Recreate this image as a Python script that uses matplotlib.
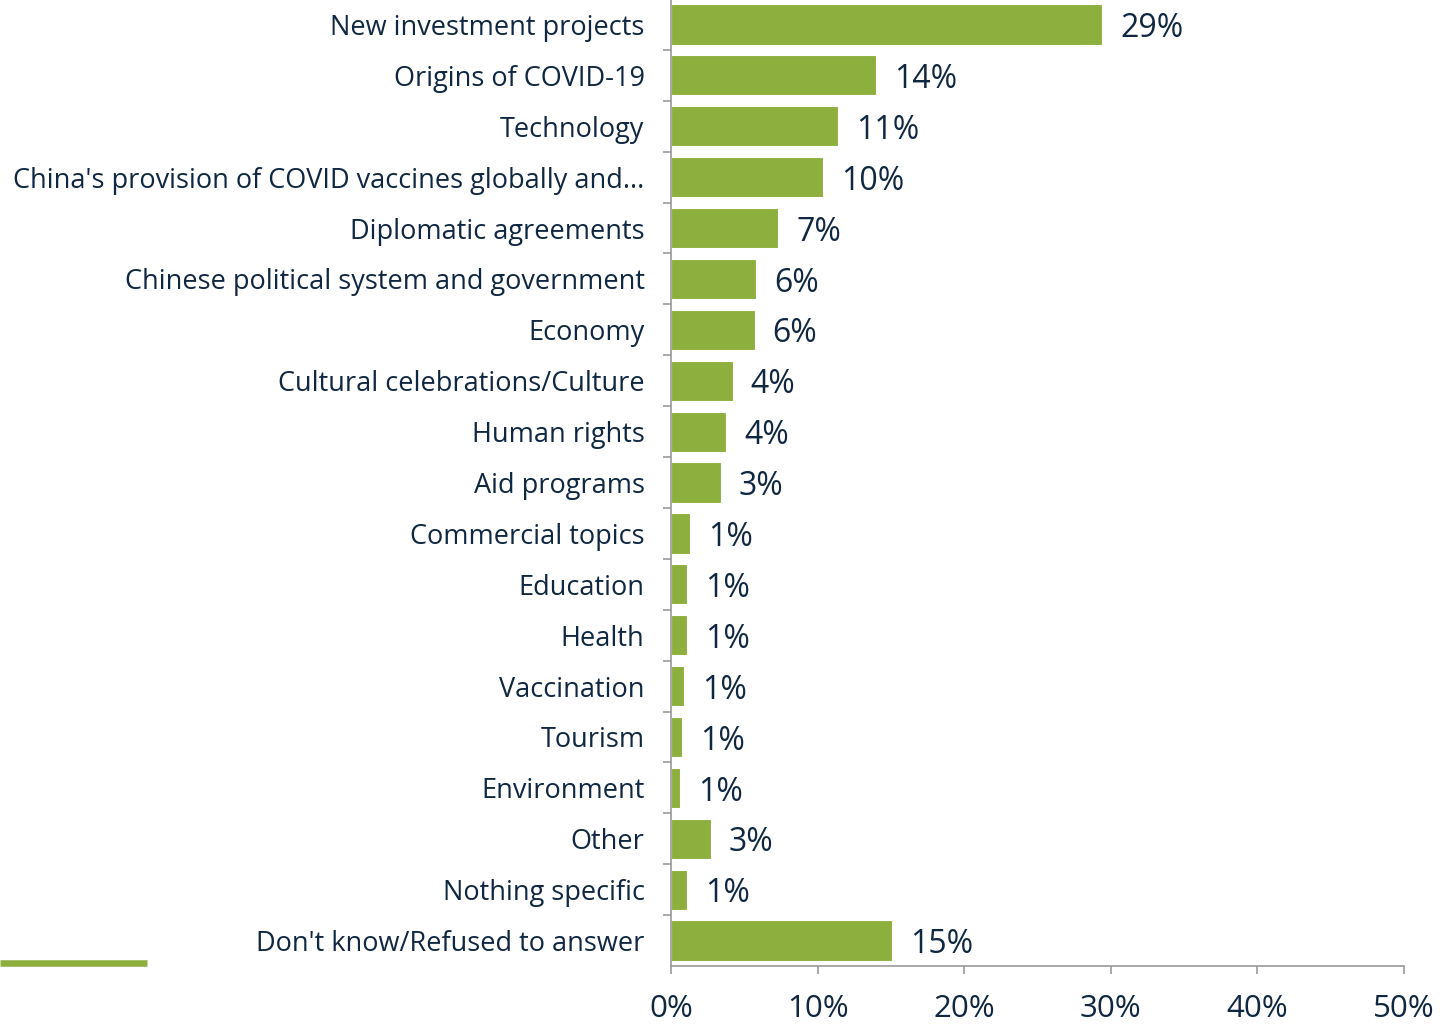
import matplotlib
matplotlib.use("Agg")
import matplotlib.pyplot as plt
import numpy as np
from matplotlib.ticker import FixedLocator

categories = [
    "New investment projects",
    "Origins of COVID-19",
    "Technology",
    "China's provision of COVID vaccines globally and...",
    "Diplomatic agreements",
    "Chinese political system and government",
    "Economy",
    "Cultural celebrations/Culture",
    "Human rights",
    "Aid programs",
    "Commercial topics",
    "Education",
    "Health",
    "Vaccination",
    "Tourism",
    "Environment",
    "Other",
    "Nothing specific",
    "Don't know/Refused to answer",
]
values = [29.4, 14.0, 11.4, 10.4, 7.3, 5.8, 5.7, 4.2, 3.75, 3.4,
          1.3, 1.1, 1.1, 0.9, 0.75, 0.6, 2.7, 1.1, 15.1]
xticks = [0, 10, 20, 30, 40, 50]

green = "#8DAF3E"
navy = "#0F2741"
gray = "#9A9A9A"

plt.rcParams["font.family"] = ["Open Sans", "DejaVu Sans"]

fig = plt.figure(figsize=(14.43, 10.24), dpi=100)
ax = fig.add_axes([0.465, 0.0566, 0.508, 0.9444])

y = np.arange(len(categories))
ax.barh(y, values, height=0.79, color=green, edgecolor="white", linewidth=0.8)
ax.set_ylim(len(categories) - 0.5, -0.5)
ax.set_xlim(0, 50)

for yi, v in zip(y, values):
    ax.annotate(f"{round(v)}%", (v, yi), xytext=(13, -3), textcoords="offset points",
                ha="left", va="center", fontsize=23, color=navy)

ax.set_yticks(y)
ax.set_yticklabels(categories, fontsize=19.5, color=navy)
ax.yaxis.set_minor_locator(FixedLocator(np.arange(0.5, len(categories) - 0.5, 1)))
ax.tick_params(axis="y", which="major", length=0, pad=19)
ax.tick_params(axis="y", which="minor", length=6, color=gray, width=1.2)

ax.set_xticks(xticks)
ax.set_xticklabels([f"{t}%" for t in xticks], fontsize=22.5, color=navy)
ax.tick_params(axis="x", length=6, color=gray, width=1.2, pad=14)

for side in ["top", "right"]:
    ax.spines[side].set_visible(False)
for side in ["left", "bottom"]:
    ax.spines[side].set_color(gray)
    ax.spines[side].set_linewidth(1.2)

# decorative rule in the lower-left corner
fig.add_artist(plt.Line2D([0, 0.102], [0.0596, 0.0596], color=green, linewidth=4.7,
                          solid_capstyle="butt", transform=fig.transFigure))

fig.savefig("out.png", dpi=100)
